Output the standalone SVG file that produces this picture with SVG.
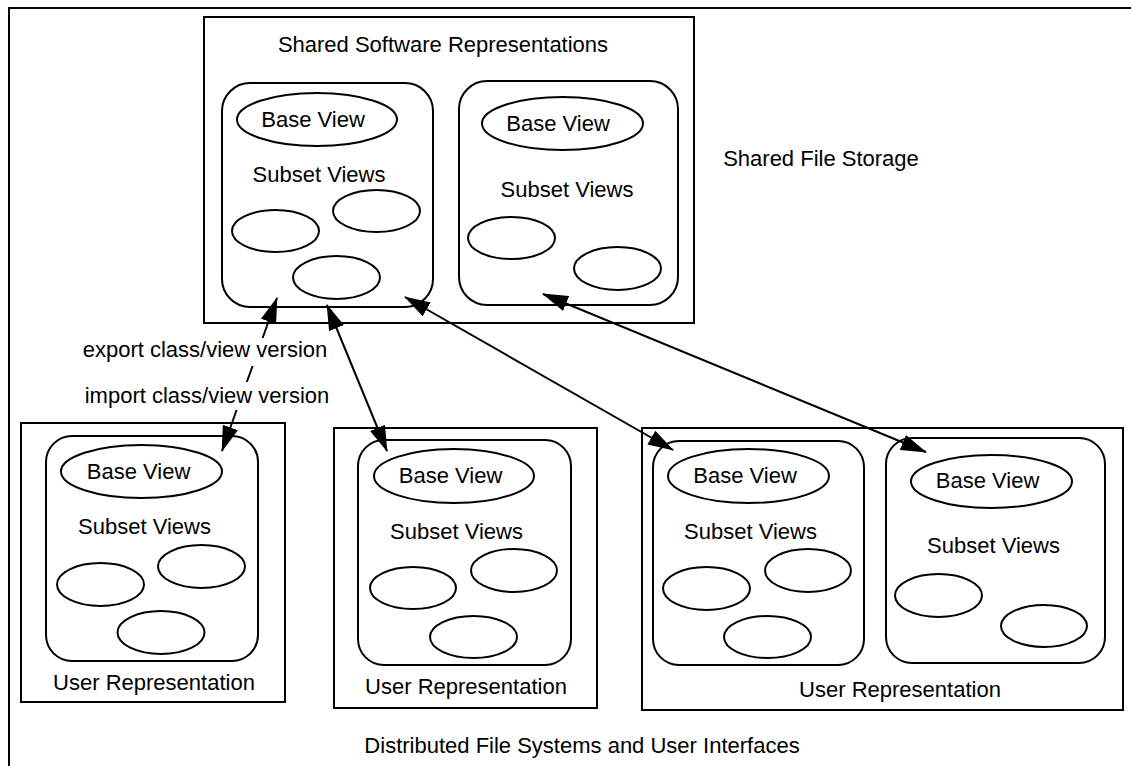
<svg xmlns="http://www.w3.org/2000/svg" width="1131" height="766" viewBox="0 0 1131 766">
<style>
.box{fill:none;stroke:#000;stroke-width:2}
.ell{fill:none;stroke:#000;stroke-width:2}
.con{fill:none;stroke:#000;stroke-width:2;marker-start:url(#ah);marker-end:url(#ah)}
text{font-family:"Liberation Sans",Arial,sans-serif;font-size:22px;fill:#000;text-anchor:middle}
</style>
<defs>
<marker id="ah" viewBox="0 0 26 16" refX="25" refY="8" markerWidth="26" markerHeight="16" markerUnits="userSpaceOnUse" orient="auto-start-reverse">
<path d="M0,0 L26,8 L0,16 z" fill="#000"/>
</marker>
</defs>
<rect width="1131" height="766" fill="#fff"/>
<g id="frame">
<rect class="box" x="9" y="8" width="1200" height="800"/>
<text x="582" y="753">Distributed File Systems and User Interfaces</text>
<text x="821" y="166">Shared File Storage</text>
</g>
<g id="shared">
<rect class="box" x="204" y="17" width="490" height="306"/>
<text x="443" y="52">Shared Software Representations</text>
<g id="shared-a">
<rect class="box" x="222" y="83" width="211" height="224" rx="28"/>
<ellipse class="ell" cx="317" cy="119.5" rx="80" ry="26.5"/>
<text x="313" y="127">Base View</text>
<text x="319" y="182">Subset Views</text>
<ellipse class="ell" cx="275.5" cy="231" rx="43.5" ry="21"/>
<ellipse class="ell" cx="376.5" cy="211" rx="43.5" ry="21"/>
<ellipse class="ell" cx="336.5" cy="277.5" rx="43.5" ry="21.5"/>
</g>
<g id="shared-b">
<rect class="box" x="459" y="81" width="219" height="224" rx="28"/>
<ellipse class="ell" cx="562.5" cy="123.5" rx="80.5" ry="26.5"/>
<text x="558" y="131">Base View</text>
<text x="567" y="197">Subset Views</text>
<ellipse class="ell" cx="511.5" cy="238" rx="43.5" ry="21"/>
<ellipse class="ell" cx="617.5" cy="268.5" rx="43.5" ry="21.5"/>
</g>
</g>
<g id="user1">
<rect class="box" x="21" y="423" width="264" height="279"/>
<rect class="box" x="46" y="436" width="212" height="225" rx="26"/>
<ellipse class="ell" cx="141.5" cy="471.5" rx="80.5" ry="26.5"/>
<text x="138.5" y="479">Base View</text>
<text x="144.5" y="534">Subset Views</text>
<ellipse class="ell" cx="100.5" cy="584.5" rx="43.5" ry="21.5"/>
<ellipse class="ell" cx="201.5" cy="566.5" rx="43.5" ry="21.5"/>
<ellipse class="ell" cx="161" cy="632.5" rx="43.5" ry="21.5"/>
<text x="154" y="690">User Representation</text>
</g>
<g id="user2">
<rect class="box" x="334" y="428" width="263" height="280"/>
<rect class="box" x="358" y="440" width="213" height="225" rx="26"/>
<ellipse class="ell" cx="454" cy="476" rx="80" ry="27"/>
<text x="450.5" y="483">Base View</text>
<text x="456.5" y="539">Subset Views</text>
<ellipse class="ell" cx="413" cy="588" rx="43" ry="21"/>
<ellipse class="ell" cx="514" cy="570.5" rx="43" ry="21.5"/>
<ellipse class="ell" cx="473.5" cy="637" rx="43.5" ry="21"/>
<text x="466" y="694">User Representation</text>
</g>
<g id="user3">
<rect class="box" x="642" y="428" width="481" height="282"/>
<g id="user3-a">
<rect class="box" x="653" y="441" width="211" height="224" rx="26"/>
<ellipse class="ell" cx="748.5" cy="476" rx="80.5" ry="27"/>
<text x="745" y="483">Base View</text>
<text x="750.5" y="539">Subset Views</text>
<ellipse class="ell" cx="706.5" cy="588.5" rx="43.5" ry="21.5"/>
<ellipse class="ell" cx="808" cy="570.5" rx="43" ry="21.5"/>
<ellipse class="ell" cx="767.5" cy="637" rx="43.5" ry="21"/>
</g>
<g id="user3-b">
<rect class="box" x="886" y="438" width="219" height="225" rx="26"/>
<ellipse class="ell" cx="991.5" cy="481.5" rx="80.5" ry="26.5"/>
<text x="987.5" y="488">Base View</text>
<text x="993.5" y="553">Subset Views</text>
<ellipse class="ell" cx="938.5" cy="595.5" rx="43.5" ry="21.5"/>
<ellipse class="ell" cx="1044" cy="626" rx="43" ry="21"/>
</g>
<text x="900" y="697">User Representation</text>
</g>
<g id="connectors">
<path class="con" d="M277,298 L262.6,338 M252.6,366 L246.8,382 M236.6,410 L222,451"/>
<path class="con" d="M327,305 L387,451"/>
<path class="con" d="M405,297 L673,450"/>
<path class="con" d="M543,294 L926,452"/>
<text x="205" y="357">export class/view version</text>
<text x="207" y="403">import class/view version</text>
</g>
</svg>
